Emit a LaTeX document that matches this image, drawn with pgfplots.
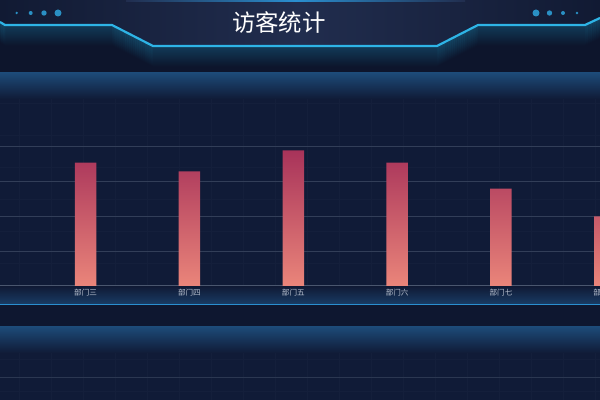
\documentclass[border=0pt]{standalone}
\usepackage{fontspec}
\newfontfamily\cjk{Noto Sans CJK SC}
\usepackage{pgfplots}
\pgfplotsset{compat=1.18}

\definecolor{bgc}{HTML}{101B37}
\definecolor{hdark}{HTML}{0D152C}
\definecolor{hside}{HTML}{111A33}
\definecolor{hpanel}{HTML}{212D4E}
\definecolor{glowc}{HTML}{1C7FA6}
\definecolor{cyanc}{HTML}{2EB4E6}
\definecolor{dotc}{HTML}{2A90C4}
\definecolor{bandc}{HTML}{1D4A78}
\definecolor{texc}{HTML}{141F3B}
\definecolor{gridc}{HTML}{323E58}
\definecolor{axisc}{HTML}{4A566E}
\definecolor{labelc}{HTML}{BCC4D2}
\definecolor{bartop}{HTML}{A8335A}
\definecolor{barbot}{HTML}{EA857A}
\definecolor{linec}{HTML}{2A8FD0}

\begin{document}
\begin{tikzpicture}
\useasboundingbox (0,0) rectangle (600bp,400bp);
\clip (0,0) rectangle (600bp,400bp);

\begin{scope}[x=1bp,y=-1bp,shift={(0,400bp)}]
  % page background
  \fill[bgc] (0,0) rectangle (600,400);
  % faint texture grid
  \foreach \gx in {19,51,...,600} \draw[texc, line width=0.5bp] (\gx,0) -- (\gx,400);
  \foreach \gy in {7,39,...,400} \draw[texc, line width=0.5bp] (0,\gy) -- (600,\gy);

  % header
  \fill[hdark] (0,0) rectangle (600,73);
  \shade[left color=hside, right color=hside, middle color=hpanel]
    (0,0) -- (600,0) -- (600,18) -- (585,25) -- (478,25) -- (437,46)
    -- (153,46) -- (112,25) -- (5,25) -- (0,22) -- cycle;
  \foreach \i in {1,...,20} {
    \pgfmathsetmacro\op{0.32*(1-\i/21)}
    \draw[glowc, line width=1.3bp, opacity=\op, yshift=-\i bp]
      (0,22) -- (5,25) -- (112,25) -- (153,46) -- (437,46) -- (478,25)
      -- (585,25) -- (600,18);
  }
  \draw[cyanc, line width=2.2bp, line join=round]
    (0,22) -- (5,25) -- (112,25) -- (153,46) -- (437,46) -- (478,25)
    -- (585,25) -- (600,18);
  \shade[left color=hpanel, right color=hpanel, middle color=linec]
    (126,0) rectangle (465,1.2);
  % dots
  \fill[dotc] (16.7,13) circle (1.3) (30.7,13) circle (2) (44,13) circle (2.7) (58,13) circle (3.5);
  \fill[dotc] (536,13) circle (3.5) (549.5,13) circle (2.7) (563,13) circle (2) (577,13) circle (1.3);
  \node[text=white, font=\cjk\fontsize{23.5}{25}\selectfont] at (279,23) {访客统计};

  % chart panel
  \shade[top color=bandc, bottom color=bgc] (0,73) rectangle (600,99);
  \shade[top color=bgc, bottom color=bandc!70!bgc] (0,287) rectangle (600,304);
  \fill[hdark!60!bgc] (0,305) rectangle (600,327);
  \draw[linec, line width=1.2bp] (0,304.5) -- (600,304.5);
  \shade[top color=bandc, bottom color=bgc] (0,327) rectangle (600,353);
  \draw[gridc!80!bgc, line width=0.8bp] (0,377) -- (600,377);
\end{scope}

\begin{axis}[
  at={(0bp,114bp)}, anchor=south west,
  width=636bp, height=139bp, scale only axis,
  xmin=-0.824, xmax=5.3, ymin=0, ymax=400,
  axis x line=bottom, axis y line=left,
  x axis line style={draw=axisc, line width=1bp, -},
  y axis line style={draw=none},
  xtick={0,1,2,3,4,5},
  xticklabels={部门三,部门四,部门五,部门六,部门七,部门八},
  x tick label style={font=\cjk\fontsize{7.6}{8}\selectfont, text=labelc},
  major tick length=0pt,
  ytick={100,200,300,400}, yticklabels={},
  ymajorgrids, grid style={draw=gridc, line width=1bp},
  clip=true,
]
\addplot[ybar, bar width=21.5bp, draw=none, top color=bartop, bottom color=barbot]
  coordinates {(0,355) (1,330) (2,390) (3,355) (4,280) (5,200)};
\end{axis}
\end{tikzpicture}
\end{document}
